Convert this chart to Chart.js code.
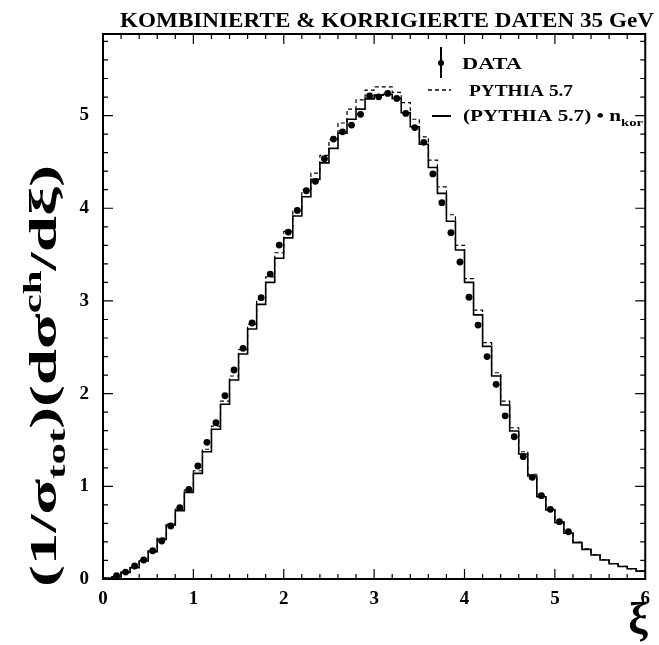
<!DOCTYPE html>
<html>
<head>
<meta charset="utf-8">
<script src="https://cdn.jsdelivr.net/npm/chart.js@4"></script>
<style>
  body { margin: 0; background: #fff; }
  canvas { display: block; }
</style>
</head>
<body>
<canvas id="myChart" width="659" height="645"></canvas>
<script>
// histogram binning: 60 bins of 0.1 from xi = 0 to 6
const binStart = 0;
const binWidth = 0.1;

// (PYTHIA 5.7) * n_kor, solid histogram
const pythiaKor = [
  0.01, 0.025, 0.072, 0.122, 0.194, 0.295, 0.428, 0.583, 0.737, 0.935,
  1.14, 1.373, 1.615, 1.885, 2.147, 2.427, 2.697, 2.963, 3.20, 3.46,
  3.68, 3.916, 4.124, 4.312, 4.49, 4.646, 4.81, 4.96, 5.07, 5.18,
  5.22, 5.23, 5.185, 5.03, 4.88, 4.69, 4.44, 4.16, 3.86, 3.55,
  3.20, 2.85, 2.51, 2.19, 1.877, 1.597, 1.348, 1.111, 0.888, 0.744,
  0.607, 0.493, 0.392, 0.32, 0.259, 0.205, 0.165, 0.135, 0.11, 0.085
];

// PYTHIA 5.7, dashed histogram
const pythia = [
  0.01, 0.027, 0.075, 0.126, 0.20, 0.303, 0.44, 0.598, 0.755, 0.958,
  1.168, 1.40, 1.65, 1.92, 2.19, 2.475, 2.75, 3.02, 3.26, 3.52,
  3.75, 3.99, 4.20, 4.38, 4.57, 4.74, 4.92, 5.07, 5.17, 5.275,
  5.31, 5.31, 5.25, 5.14, 4.96, 4.77, 4.52, 4.23, 3.93, 3.60,
  3.24, 2.90, 2.55, 2.225, 1.92, 1.632, 1.373, 1.13, 0.906, 0.752,
  0.618, 0.50, 0.398, 0.325, 0.262, 0.208, 0.167, 0.137, 0.112, 0.087
];

// DATA points (bin centres)
const dataX = [
  0.15, 0.25, 0.35, 0.45, 0.55, 0.65, 0.75, 0.85, 0.95, 1.05,
  1.15, 1.25, 1.35, 1.45, 1.55, 1.65, 1.75, 1.85, 1.95, 2.05,
  2.15, 2.25, 2.35, 2.45, 2.55, 2.65, 2.75, 2.85, 2.95, 3.05,
  3.15, 3.25, 3.35, 3.45, 3.55, 3.65, 3.75, 3.85, 3.95, 4.05,
  4.15, 4.25, 4.35, 4.45, 4.55, 4.65, 4.75, 4.85, 4.95, 5.05, 5.15
];
const dataY = [
  0.036, 0.075, 0.14, 0.205, 0.305, 0.41, 0.572, 0.77, 0.968, 1.219,
  1.475, 1.686, 1.977, 2.255, 2.489, 2.762, 3.035, 3.29, 3.603, 3.743,
  3.977, 4.189, 4.29, 4.534, 4.746, 4.825, 4.897, 5.013, 5.213, 5.202,
  5.239, 5.185, 5.023, 4.87, 4.711, 4.37, 4.06, 3.736, 3.42, 3.04,
  2.74, 2.40, 2.10, 1.76, 1.535, 1.32, 1.097, 0.899, 0.752, 0.618, 0.51
];
const dataErrY = 0.03;
const dataErrX = 0.035;

const xTicks = [0, 1, 2, 3, 4, 5, 6];
const yTicks = [0, 1, 2, 3, 4, 5];

const titleText = 'KOMBINIERTE & KORRIGIERTE DATEN 35 GeV';
const serif = '"Liberation Serif", "DejaVu Serif", serif';

function histPoints(values) {
  const pts = values.map((v, i) => ({ x: binStart + i * binWidth, y: v }));
  pts.push({ x: binStart + values.length * binWidth, y: values[values.length - 1] });
  return pts;
}

// draw a string squeezed/stretched to a given width
function fitText(ctx, text, x, y, width) {
  const w = ctx.measureText(text).width;
  ctx.save();
  ctx.translate(x, y);
  ctx.scale(width / w, 1);
  ctx.fillText(text, 0, 0);
  ctx.restore();
}

// frame with inward ticks on all four sides, error bars, titles, legend
const decorations = {
  id: 'decorations',
  afterDatasetsDraw(chart) {
    const ctx = chart.ctx;
    const xs = chart.scales.x, ys = chart.scales.y;
    ctx.save();
    ctx.strokeStyle = '#000';
    ctx.lineWidth = 1.3;
    dataX.forEach((xv, i) => {
      const px = xs.getPixelForValue(xv), py = ys.getPixelForValue(dataY[i]);
      ctx.beginPath();
      ctx.moveTo(xs.getPixelForValue(xv - dataErrX), py);
      ctx.lineTo(xs.getPixelForValue(xv + dataErrX), py);
      ctx.moveTo(px, ys.getPixelForValue(dataY[i] - dataErrY));
      ctx.lineTo(px, ys.getPixelForValue(dataY[i] + dataErrY));
      ctx.stroke();
    });
    ctx.restore();
  },
  afterDraw(chart) {
    const ctx = chart.ctx;
    const a = chart.chartArea;
    const xs = chart.scales.x, ys = chart.scales.y;
    ctx.save();
    ctx.strokeStyle = '#000';
    ctx.lineWidth = 2;
    ctx.strokeRect(a.left, a.top, a.right - a.left, a.bottom - a.top);

    ctx.lineWidth = 1.2;
    ctx.beginPath();
    for (let k = 0; k <= 30; k++) {
      const px = xs.getPixelForValue(k * 0.2);
      const len = k % 5 === 0 ? 10 : 5;
      ctx.moveTo(px, a.bottom); ctx.lineTo(px, a.bottom - len);
      ctx.moveTo(px, a.top); ctx.lineTo(px, a.top + len);
    }
    for (let k = 0; k * 0.2 <= ys.max; k++) {
      const py = ys.getPixelForValue(k * 0.2);
      const len = k % 5 === 0 ? 10 : 5;
      ctx.moveTo(a.left, py); ctx.lineTo(a.left + len, py);
      ctx.moveTo(a.right, py); ctx.lineTo(a.right - len, py);
    }
    ctx.stroke();

    ctx.fillStyle = '#000';
    // title
    ctx.font = 'bold 20px ' + serif;
    ctx.textBaseline = 'alphabetic';
    ctx.textAlign = 'left';
    fitText(ctx, titleText, 120, 27, 534);

    // x axis title
    ctx.font = 'bold 44px ' + serif;
    ctx.textAlign = 'center';
    ctx.textBaseline = 'middle';
    ctx.fillText('ξ', 638, 622);

    // y axis title with sub/superscripts, rotated
    const segs = [
      { t: '(1/σ', size: 38, dy: 0 },
      { t: 'tot', size: 25, dy: 9 },
      { t: ')(dσ', size: 38, dy: 0 },
      { t: 'ch', size: 25, dy: -15 },
      { t: '/dξ)', size: 38, dy: 0 }
    ];
    ctx.textAlign = 'left';
    ctx.textBaseline = 'alphabetic';
    let total = 0;
    segs.forEach(s => { ctx.font = 'bold ' + s.size + 'px ' + serif; s.w = ctx.measureText(s.t).width; total += s.w; });
    const target = 422;
    ctx.save();
    ctx.translate(56, 376);
    ctx.rotate(-Math.PI / 2);
    ctx.scale(target / total, 1);
    let cx = -total / 2;
    segs.forEach(s => {
      ctx.font = 'bold ' + s.size + 'px ' + serif;
      ctx.fillText(s.t, cx, s.dy);
      cx += s.w;
    });
    ctx.restore();

    // legend
    ctx.lineWidth = 2;
    ctx.beginPath();
    ctx.moveTo(441, 47); ctx.lineTo(441, 78);
    ctx.stroke();
    ctx.beginPath();
    ctx.arc(441, 63, 3, 0, Math.PI * 2);
    ctx.fill();

    ctx.lineWidth = 1.5;
    ctx.setLineDash([4, 3]);
    ctx.beginPath();
    ctx.moveTo(428, 90); ctx.lineTo(451, 90);
    ctx.stroke();
    ctx.setLineDash([]);
    ctx.lineWidth = 2;
    ctx.beginPath();
    ctx.moveTo(432, 116); ctx.lineTo(451, 116);
    ctx.stroke();

    ctx.font = 'bold 16px ' + serif;
    ctx.textBaseline = 'alphabetic';
    fitText(ctx, 'DATA', 462, 69, 60);
    fitText(ctx, 'PYTHIA 5.7', 469, 96, 104);
    fitText(ctx, '(PYTHIA 5.7) • n', 463, 121, 158);
    ctx.font = 'bold 11px ' + serif;
    fitText(ctx, 'kor', 621, 126, 22);
    ctx.restore();
  }
};

const ctx = document.getElementById('myChart').getContext('2d');
new Chart(ctx, {
  data: {
    datasets: [
      {
        type: 'line',
        label: '(PYTHIA 5.7) • n_kor',
        data: histPoints(pythiaKor),
        stepped: 'before',
        borderColor: '#000',
        borderWidth: 1.6,
        pointRadius: 0,
        fill: false
      },
      {
        type: 'line',
        label: 'PYTHIA 5.7',
        data: histPoints(pythia),
        stepped: 'before',
        borderColor: '#000',
        borderWidth: 1.2,
        borderDash: [4, 3],
        pointRadius: 0,
        fill: false
      },
      {
        type: 'scatter',
        label: 'DATA',
        data: dataX.map((x, i) => ({ x: x, y: dataY[i] })),
        pointRadius: 3.4,
        pointBackgroundColor: '#000',
        pointBorderWidth: 0
      }
    ]
  },
  options: {
    responsive: false,
    animation: false,
    events: [],
    layout: { padding: { left: 0, right: 13, top: 34, bottom: 0 } },
    plugins: {
      legend: { display: false },
      title: { display: false },
      tooltip: { enabled: false }
    },
    scales: {
      x: {
        type: 'linear',
        min: 0,
        max: 6,
        afterBuildTicks: s => { s.ticks = xTicks.map(v => ({ value: v })); },
        afterFit: s => { s.height = 66; },
        grid: { display: false, drawTicks: false },
        border: { display: false },
        ticks: {
          padding: 9,
          color: '#000',
          font: { family: serif, size: 19, weight: 'bold' }
        }
      },
      y: {
        type: 'linear',
        min: 0,
        max: 5.88,
        afterBuildTicks: s => { s.ticks = yTicks.map(v => ({ value: v })); },
        afterFit: s => { s.width = 103; },
        grid: { display: false, drawTicks: false },
        border: { display: false },
        ticks: {
          padding: 14,
          color: '#000',
          font: { family: serif, size: 19, weight: 'bold' }
        }
      }
    }
  },
  plugins: [decorations]
});
</script>
</body>
</html>
